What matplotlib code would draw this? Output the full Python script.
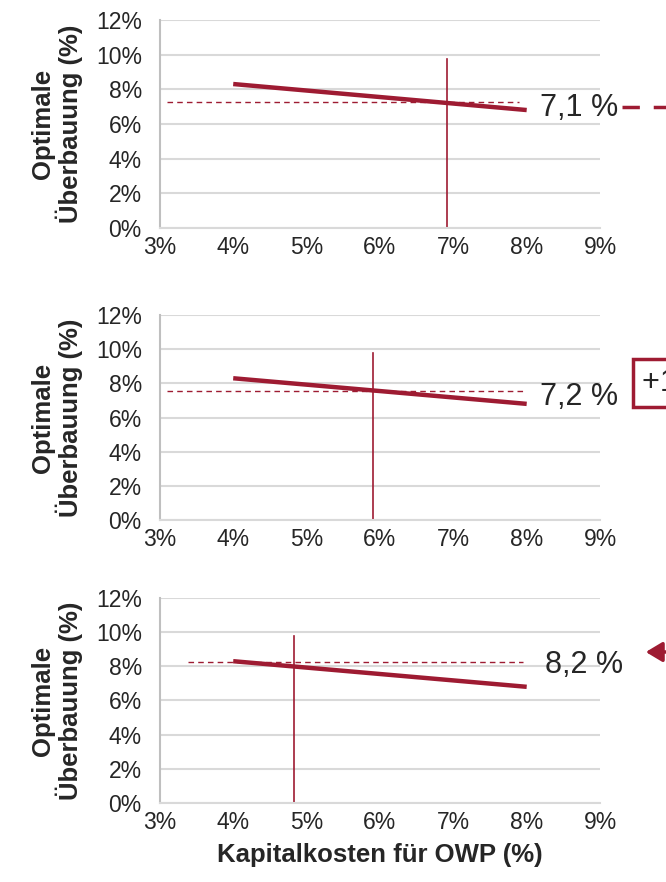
import matplotlib.pyplot as plt
from matplotlib.patches import FancyArrowPatch

plt.rcParams['font.family'] = ['Liberation Sans', 'DejaVu Sans']

# Data
wacc = [4, 8]                      # Kapitalkosten (%)
overbuild = [8.3, 6.8]             # optimale Ueberbauung (%)
marker_x = [6.92, 5.9, 4.83]       # vertical marker per panel
level_y = [7.28, 7.55, 8.25]       # dashed level per panel
level_x0 = [3.1, 3.1, 3.38]
level_x1 = [7.9, 7.95, 7.95]
labels = ['7,1 %', '7,2 %', '8,2 %']
xticks = [3, 4, 5, 6, 7, 8, 9]
yticks = [0, 2, 4, 6, 8, 10, 12]

# label anchor (baseline) per panel, data units
lab_x = [8.18, 8.18, 8.25]
lab_y = [6.47, 6.73, 7.61]

red = '#9E1B32'
grid = '#D9D9D9'
txt = '#262626'

fig = plt.figure(figsize=(6.66, 8.82), dpi=100)
boxes = [[0.240, 0.7415, 0.661, 0.236],
         [0.240, 0.4104, 0.661, 0.2324],
         [0.240, 0.0896, 0.661, 0.2324]]

axes = []
for i, b in enumerate(boxes):
    ax = fig.add_axes(b)
    ax.set_xlim(3, 9)
    ax.set_ylim(0, 12)
    ax.set_xticks(xticks)
    ax.set_xticklabels([f'{t}%' for t in xticks])
    ax.set_yticks(yticks)
    ax.set_yticklabels([f'{t}%' for t in yticks])
    ax.tick_params(length=0, labelsize=16.5, labelcolor=txt)
    ax.tick_params(axis='y', pad=13)
    ax.tick_params(axis='x', pad=6)
    ax.yaxis.grid(True, color=grid, lw=1.5)
    ax.set_axisbelow(True)
    for s in ['top', 'right']:
        ax.spines[s].set_visible(False)
    ax.spines['left'].set_color('#BFBFBF')
    ax.spines['left'].set_linewidth(1.5)
    ax.spines['bottom'].set_color(grid)
    ax.spines['bottom'].set_linewidth(1.5)

    ax.plot([level_x0[i], level_x1[i]], [level_y[i], level_y[i]],
            color=red, lw=1, ls=(0, (4, 3)))
    ax.plot(wacc, overbuild, color=red, lw=3.2, solid_capstyle='butt')
    ax.plot([marker_x[i], marker_x[i]], [0, 9.75], color=red, lw=1.2)
    ax.text(lab_x[i], lab_y[i], labels[i], fontsize=22, color=txt,
            va='baseline', ha='left', clip_on=False)
    ax.set_ylabel('Optimale\nÜberbauung (%)', fontsize=18.5, fontweight='bold',
                  color=txt, labelpad=9, linespacing=1.05)
    axes.append(ax)

axes[2].set_xlabel('Kapitalkosten für OWP (%)', fontsize=18.5,
                   fontweight='bold', color=txt, labelpad=6)

# cut-off elements at the right edge
fig.add_artist(plt.Line2D([622 / 666, 1.0], [1 - 107 / 882, 1 - 107 / 882],
                          color=red, lw=2.5, ls=(0, (5, 4)),
                          transform=fig.transFigure))
fig.text(642 / 666, 1 - 383 / 882, '+1 %', fontsize=22, color=txt,
         va='center', ha='left',
         bbox=dict(boxstyle='square,pad=0.3', fc='white', ec=red, lw=2.5))
fig.add_artist(FancyArrowPatch((700 / 666, 1 - 652 / 882),
                               (643 / 666, 1 - 652 / 882),
                               transform=fig.transFigure,
                               arrowstyle='-|>,head_length=10,head_width=6',
                               color=red, lw=2.5))

fig.savefig('out.png', dpi=100)
